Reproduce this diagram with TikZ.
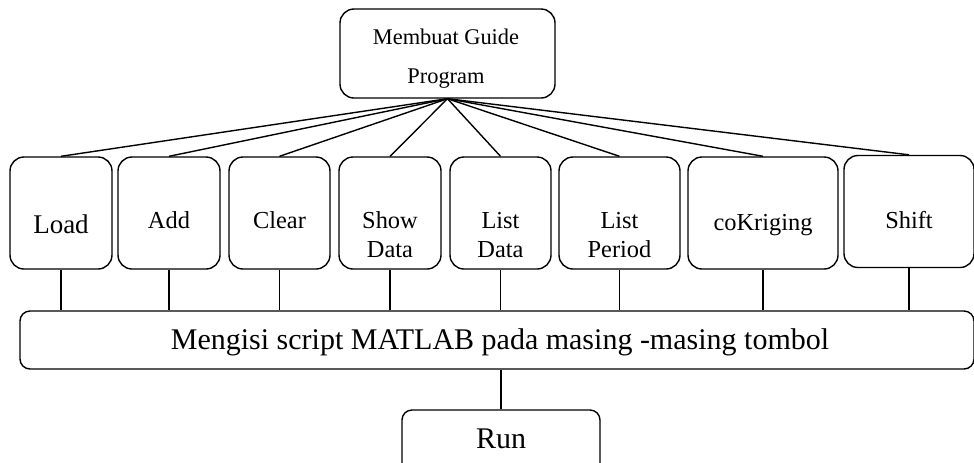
\documentclass[tikz,border=0pt]{standalone}
\usepackage{fontspec}
\setmainfont{Liberation Serif}
\begin{document}
\begin{tikzpicture}[x=0.5pt,y=-0.5pt,
  box/.style={draw, line width=0.7pt, rounded corners=7pt, inner sep=0pt},
  btn/.style={box, minimum height=56pt},
  lbl/.style={font=\fontsize{12.2}{14}\selectfont, anchor=base, inner sep=0pt},
  big/.style={font=\fontsize{15}{17}\selectfont, anchor=base, inner sep=0pt},
  small/.style={font=\fontsize{11.2}{13}\selectfont, anchor=base, inner sep=0pt},
  link/.style={line width=0.7pt}]
\useasboundingbox (0,0) rectangle (974,462);

% top box
\node[box, minimum width=107.5pt, minimum height=44.5pt] (top) at (447.5,53.5) {};
\node[small] (top1) at (446,44) {Membuat Guide};
\node[small] (top2) at (446,83) {Program};

% row of buttons
\node[btn, minimum width=51pt]   (load)  at (61,213) {};
\node[btn, minimum width=51pt]   (add)   at (169,213) {};
\node[btn, minimum width=50.5pt] (clear) at (279.5,213) {};
\node[btn, minimum width=51pt]   (show)  at (390,213) {};
\node[btn, minimum width=50.5pt] (ldata) at (500.5,213) {};
\node[btn, minimum width=60.5pt] (lper)  at (619.5,213) {};
\node[btn, minimum width=75pt]   (cok)   at (763,213) {};
\node[btn, minimum width=65pt]   (shift) at (909,211.5) {};

\node[lbl, font=\fontsize{13.5}{15}\selectfont] (tload) at (61,233) {Load};
\node[lbl] (tadd)   at (169,228) {Add};
\node[lbl] (tclear) at (279.5,228) {Clear};
\node[lbl] (tshow1) at (390,228) {Show};
\node[lbl] (tshow2) at (390,257) {Data};
\node[lbl] (tld1)   at (500.5,228) {List};
\node[lbl] (tld2)   at (500.5,257) {Data};
\node[lbl] (tlp1)   at (619.5,228) {List};
\node[lbl] (tlp2)   at (619.5,257) {Period};
\node[lbl] (tcok)   at (763,230) {coKriging};
\node[lbl] (tshift) at (909,228) {Shift};

% script box and run box
\node[box, rounded corners=5pt, minimum width=477pt, minimum height=29pt] (big) at (497,340) {};
\node[big] (tbig) at (500,349) {Mengisi script MATLAB pada masing -masing tombol};
\node[box, rounded corners=5pt, minimum width=99pt, minimum height=35pt] (run) at (501,445) {};
\node[big] (trun) at (501,448) {Run};

% connectors from the top box
\foreach \b in {load,add,clear,show,ldata,lper,cok,shift}
  \draw[link] (top.south) -- (\b.north);
% connectors down to the script box
\foreach \b in {load,add,clear,show,ldata,lper,cok,shift}
  \draw[link] (\b.south) -- (\b.south |- big.north);
\draw[link] (run.north |- big.south) -- (run.north);
\end{tikzpicture}
\end{document}
